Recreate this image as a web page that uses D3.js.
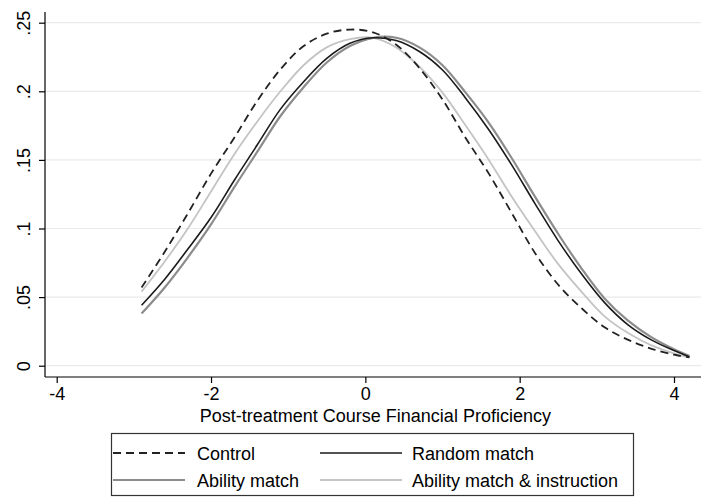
<!DOCTYPE html>
<html>
<head>
<meta charset="utf-8">
<script src="https://cdn.jsdelivr.net/npm/d3@7"></script>
<style>
  body { margin: 0; background: #fff; }
  text { font-family: "Liberation Sans", Arial, sans-serif; }
</style>
</head>
<body>
<svg id="chart" width="707" height="499"></svg>
<script>
// evaluation points of the density estimates
const xs = [-2.9, -2.6, -2.3, -2.0, -1.7, -1.4, -1.1, -0.8, -0.5, -0.2, 0.1, 0.4, 0.7,
  1.0, 1.3, 1.6, 1.9, 2.2, 2.5, 2.8, 3.1, 3.4, 3.7, 4.0, 4.2];

const control = [0.057, 0.083, 0.111, 0.140, 0.166, 0.193, 0.216, 0.233, 0.242, 0.245, 0.243, 0.234, 0.217,
  0.194, 0.166, 0.140, 0.111, 0.082, 0.059, 0.042, 0.028, 0.019, 0.0125, 0.008, 0.006];
const randomMatch = [0.044, 0.063, 0.085, 0.108, 0.135, 0.161, 0.187, 0.207, 0.224, 0.235, 0.239, 0.237, 0.229,
  0.2155, 0.195, 0.172, 0.146, 0.118, 0.091, 0.067, 0.046, 0.030, 0.019, 0.011, 0.0065];
const abilityMatch = [0.038, 0.057, 0.079, 0.103, 0.130, 0.156, 0.182, 0.203, 0.221, 0.233, 0.239, 0.239, 0.232,
  0.219, 0.199, 0.177, 0.151, 0.123, 0.096, 0.071, 0.049, 0.033, 0.021, 0.012, 0.007];
const abilityInstr = [0.054, 0.076, 0.100, 0.127, 0.154, 0.178, 0.200, 0.219, 0.232, 0.238, 0.239, 0.232, 0.218,
  0.199, 0.175, 0.150, 0.123, 0.098, 0.074, 0.054, 0.036, 0.024, 0.015, 0.009, 0.006];

const xTicks = [-4, -2, 0, 2, 4];
const yTicks = [0, 0.05, 0.1, 0.15, 0.2, 0.25];
const yTickLabels = ["0", ".05", ".1", ".15", ".2", ".25"];

const series = [
  { name: "Control", values: control, color: "#222", width: 1.8, dash: "8,5" },
  { name: "Random match", values: randomMatch, color: "#1a1a1a", width: 1.6, dash: null },
  { name: "Ability match", values: abilityMatch, color: "#8c8c8c", width: 2.2, dash: null },
  { name: "Ability match & instruction", values: abilityInstr, color: "#c4c4c4", width: 1.8, dash: null }
];

const svg = d3.select("#chart");

const x = d3.scaleLinear().domain([-4, 4]).range([56.7, 674]);
const y = d3.scaleLinear().domain([0, 0.25]).range([365.7, 22.7]);

const plotLeft = 45, plotRight = 701, plotTop = 12, plotBottom = 377;
const fontSize = "18px";

// grid
svg.append("g")
  .selectAll("line")
  .data(yTicks)
  .join("line")
  .attr("x1", plotLeft)
  .attr("x2", plotRight)
  .attr("y1", (d) => y(d))
  .attr("y2", (d) => y(d))
  .attr("stroke", "#eaeaea")
  .attr("stroke-width", 1.2);

// curves
const line = d3.line()
  .x((d) => x(d[0]))
  .y((d) => y(d[1]))
  .curve(d3.curveCatmullRom);

// draw the lighter ones first so dark lines sit on top
const drawOrder = [series[3], series[2], series[1], series[0]];
svg.append("g")
  .selectAll("path")
  .data(drawOrder)
  .join("path")
  .attr("d", (s) => line(xs.map((v, i) => [v, s.values[i]])))
  .attr("fill", "none")
  .attr("stroke", (s) => s.color)
  .attr("stroke-width", (s) => s.width)
  .attr("stroke-dasharray", (s) => s.dash)
  .attr("stroke-linejoin", "round");

// y axis
const yAxis = svg.append("g").attr("transform", `translate(${plotLeft},0)`)
  .call(d3.axisLeft(y).tickValues(yTicks).tickSize(6).tickFormat((d, i) => yTickLabels[i]));
yAxis.select(".domain").attr("d", `M0,${plotTop}V${plotBottom}`).attr("stroke", "#000").attr("stroke-width", 1.2);
yAxis.selectAll(".tick line").attr("stroke", "#000").attr("stroke-width", 1.2);
yAxis.selectAll(".tick text")
  .attr("x", null).attr("dy", null)
  .attr("transform", "translate(-15,0) rotate(-90)")
  .attr("text-anchor", "middle")
  .attr("fill", "#000")
  .style("font-size", fontSize);

// x axis
const xAxis = svg.append("g").attr("transform", `translate(0,${plotBottom})`)
  .call(d3.axisBottom(x).tickValues(xTicks).tickSize(6).tickFormat((d) => String(d)));
xAxis.select(".domain").attr("d", `M${plotLeft},0H${plotRight}`).attr("stroke", "#000").attr("stroke-width", 1.2);
xAxis.selectAll(".tick line").attr("stroke", "#000").attr("stroke-width", 1.2);
xAxis.selectAll(".tick text")
  .attr("y", 23).attr("dy", null)
  .attr("fill", "#000")
  .style("font-size", fontSize);

svg.append("text")
  .attr("x", x(0) + 10)
  .attr("y", 422)
  .attr("text-anchor", "middle")
  .style("font-size", fontSize)
  .text("Post-treatment Course Financial Proficiency");

// legend
const legend = svg.append("g");
legend.append("rect")
  .attr("x", 111.5).attr("y", 433.5)
  .attr("width", 522).attr("height", 62)
  .attr("fill", "#fff").attr("stroke", "#333").attr("stroke-width", 1.2);

const legCols = [{ x1: 113, x2: 185, tx: 197 }, { x1: 320, x2: 402, tx: 412 }];
const legRows = [453, 480];

const items = legend.selectAll("g.item")
  .data(series)
  .join("g")
  .attr("class", "item")
  .attr("transform", (s, i) => `translate(0,${legRows[Math.floor(i / 2)]})`);

items.append("line")
  .attr("x1", (s, i) => legCols[i % 2].x1)
  .attr("x2", (s, i) => legCols[i % 2].x2)
  .attr("stroke", (s) => s.color)
  .attr("stroke-width", (s) => s.width)
  .attr("stroke-dasharray", (s) => s.dash);

items.append("text")
  .attr("x", (s, i) => legCols[i % 2].tx)
  .attr("y", 6.5)
  .style("font-size", fontSize)
  .text((s) => s.name);
</script>
</body>
</html>
